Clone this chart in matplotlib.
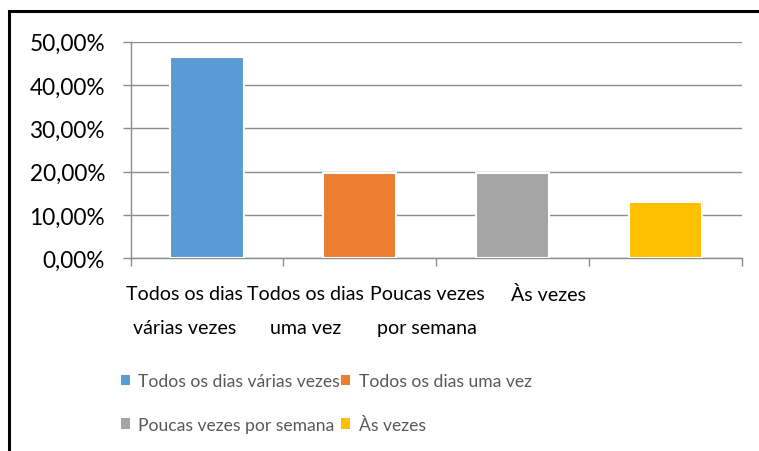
import matplotlib.pyplot as plt
from matplotlib.patches import Rectangle, Patch
from matplotlib.ticker import FuncFormatter, FixedLocator

plt.rcParams['font.family'] = ['Lato', 'DejaVu Sans']

# dados
categorias = ['Todos os dias\nvárias vezes', 'Todos os dias\numa vez',
              'Poucas vezes\npor semana', 'Às vezes']
legenda = ['Todos os dias várias vezes', 'Todos os dias uma vez',
           'Poucas vezes por semana', 'Às vezes']
valores = [0.464, 0.197, 0.197, 0.130]
cores = ['#5B9BD5', '#ED7D31', '#A5A5A5', '#FFC000']

# no original os rótulos ficam deslocados para a esquerda
pos_rotulos = [-0.145, 0.644, 1.440, 2.232]

fig = plt.figure(figsize=(7.59, 4.52), dpi=100, facecolor='white')
ax = fig.add_axes([0.1722, 0.4263, 0.805, 0.4792])

x = range(len(valores))
ax.bar(x, valores, width=0.48, color=cores, edgecolor='white', linewidth=1.5, zorder=3)

ax.set_xlim(-0.5, len(valores) - 0.5)
ax.set_ylim(0, 0.5)
ax.set_yticks([0, 0.1, 0.2, 0.3, 0.4, 0.5])
ax.yaxis.set_major_formatter(FuncFormatter(lambda v, p: f'{v*100:.2f}%'.replace('.', ',')))
ax.grid(axis='y', color='#8C8C8C', linewidth=1.0, zorder=0)

ax.set_xticks(pos_rotulos)
ax.set_xticklabels(categorias, fontsize=14.1, linespacing=2.2, va='top')
ax.xaxis.set_minor_locator(FixedLocator([-0.5, 0.5, 1.5, 2.5, 3.5]))
ax.tick_params(axis='x', which='major', length=0, pad=19, colors='black')
ax.tick_params(axis='x', which='minor', length=6, width=1, color='#8C8C8C')
ax.tick_params(axis='y', length=6, width=1, color='#8C8C8C', labelsize=16.3, pad=12.5)

for s in ['top', 'right']:
    ax.spines[s].set_visible(False)
for s in ['left', 'bottom']:
    ax.spines[s].set_color('#8C8C8C')
    ax.spines[s].set_linewidth(1.0)

handles = [Patch(facecolor=c, edgecolor='none') for c in cores]
ordem = [0, 2, 1, 3]
fig.legend([handles[i] for i in ordem], [legenda[i] for i in ordem],
           loc='upper left', bbox_to_anchor=(120.5 / 759, 1 - 374 / 452),
           ncol=2, frameon=False, fontsize=12.6, labelcolor='#595959',
           handlelength=0.52, handleheight=0.52, handletextpad=0.5,
           columnspacing=0.05, labelspacing=1.58, borderpad=0, borderaxespad=0)

# moldura externa
fig.patches.append(Rectangle((9 / 759, -0.1), 1.2, 1 - 11.5 / 452 + 0.1,
                             transform=fig.transFigure, fill=False,
                             edgecolor='black', linewidth=2.2))

fig.savefig('out.png', dpi=100)
